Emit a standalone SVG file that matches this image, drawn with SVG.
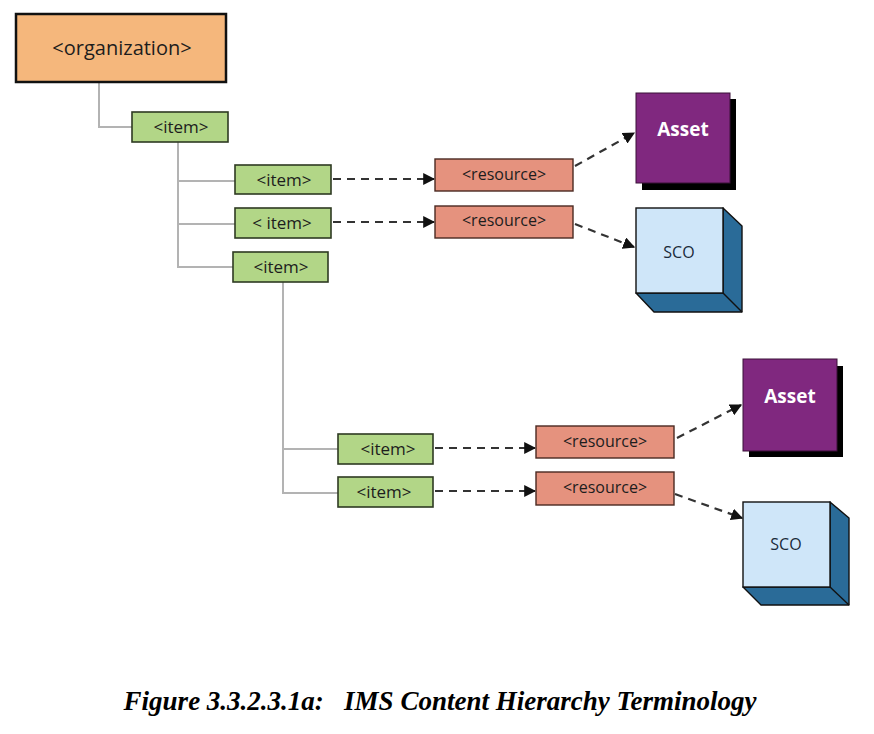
<svg xmlns="http://www.w3.org/2000/svg" width="874" height="734" viewBox="0 0 874 734">
<defs>
<style>
.tree{fill:none;stroke:#b3b3b3;stroke-width:2}
.dash{fill:none;stroke:#333;stroke-width:2.2;stroke-dasharray:8,6}
.item{fill:#b2d687;stroke:#2e3a22;stroke-width:1.6}
.res{fill:#e5927e;stroke:#4a2a22;stroke-width:1.4}
.org{fill:#f5b77c;stroke:#111;stroke-width:2.5}
.lbl{font-family:"Open Sans","Noto Sans",sans-serif;font-size:16px;fill:#1d1d1d;text-anchor:middle}
.it{font-size:17px}
.sco{font-size:16px;fill:#1a2a3a}
.asset{fill:#80287f;stroke:#3a1038;stroke-width:1}
.shadow{fill:#000}
.scoF{fill:#cfe6f9;stroke:#111;stroke-width:1.4}
.scoD{fill:#2a6b98;stroke:#111;stroke-width:1.4;stroke-linejoin:round}
</style>
<marker id="ah" viewBox="0 0 10 10" refX="9" refY="5" markerWidth="12" markerHeight="12" markerUnits="userSpaceOnUse" orient="auto">
<path d="M0,0 L10,5 L0,10 Z" fill="#111"/>
</marker>
</defs>
<rect width="874" height="734" fill="#fff"/>
<g id="connectors">
<path class="tree" d="M99,82 V127 H132"/>
<path class="tree" d="M178,142 V267 H233 M178,181 H235 M178,224 H235"/>
<path class="tree" d="M283,282 V493 H338 M283,449 H338"/>
<path class="dash" d="M333,179 H434" marker-end="url(#ah)"/>
<path class="dash" d="M333,222 H434" marker-end="url(#ah)"/>
<path class="dash" d="M575,166 L634,133" marker-end="url(#ah)"/>
<path class="dash" d="M575,224 L634,247" marker-end="url(#ah)"/>
<path class="dash" d="M435,448 H535" marker-end="url(#ah)"/>
<path class="dash" d="M435,491 H535" marker-end="url(#ah)"/>
<path class="dash" d="M677,438 L741,405" marker-end="url(#ah)"/>
<path class="dash" d="M675,494 L742,518" marker-end="url(#ah)"/>
</g>
<g id="organization">
<rect class="org" x="16" y="14" width="210" height="68"/>
<text class="lbl" x="122" y="55" style="font-size:20px">&lt;organization&gt;</text>
</g>
<g id="item1">
<rect class="item" x="132" y="112" width="96" height="30"/>
<text class="lbl it" x="181" y="133">&lt;item&gt;</text>
</g>
<g id="item2">
<rect class="item" x="235" y="165" width="96" height="29"/>
<text class="lbl it" x="284" y="186">&lt;item&gt;</text>
</g>
<g id="item3">
<rect class="item" x="235" y="208" width="96" height="30"/>
<text class="lbl it" x="282" y="229">&lt; item&gt;</text>
</g>
<g id="item4">
<rect class="item" x="233" y="252" width="95" height="30"/>
<text class="lbl it" x="281" y="273">&lt;item&gt;</text>
</g>
<g id="item5">
<rect class="item" x="338" y="434" width="95" height="30"/>
<text class="lbl it" x="388" y="455">&lt;item&gt;</text>
</g>
<g id="item6">
<rect class="item" x="338" y="477" width="95" height="30"/>
<text class="lbl it" x="384" y="498">&lt;item&gt;</text>
</g>
<g id="resource1">
<rect class="res" x="435" y="159" width="138" height="32"/>
<text class="lbl" x="504" y="180">&lt;resource&gt;</text>
</g>
<g id="resource2">
<rect class="res" x="435" y="206" width="138" height="32"/>
<text class="lbl" x="504" y="226">&lt;resource&gt;</text>
</g>
<g id="resource3">
<rect class="res" x="536" y="426" width="138" height="32"/>
<text class="lbl" x="605" y="447">&lt;resource&gt;</text>
</g>
<g id="resource4">
<rect class="res" x="536" y="472" width="138" height="33"/>
<text class="lbl" x="605" y="493">&lt;resource&gt;</text>
</g>
<g id="asset1">
<rect class="shadow" x="642" y="99" width="94" height="91"/>
<rect class="asset" x="636" y="93" width="94" height="90"/>
<text class="lbl" x="683" y="136" style="font-size:19px;font-weight:bold;fill:#fff">Asset</text>
</g>
<g id="sco1">
<path class="scoD" d="M723,208 L742,226 L742,312 L654,312 L636,293 L723,293 Z"/>
<path class="scoD" d="M723,293 L742,312" fill="none"/>
<rect class="scoF" x="636" y="208" width="87" height="85"/>
<text class="lbl sco" x="679" y="258">SCO</text>
</g>
<g id="asset2">
<rect class="shadow" x="749" y="366" width="94" height="91"/>
<rect class="asset" x="743" y="359" width="94" height="92"/>
<text class="lbl" x="790" y="403" style="font-size:19px;font-weight:bold;fill:#fff">Asset</text>
</g>
<g id="sco2">
<path class="scoD" d="M830,502 L849,518 L849,605 L761,605 L743,587 L830,587 Z"/>
<path class="scoD" d="M830,587 L849,605" fill="none"/>
<rect class="scoF" x="743" y="502" width="87" height="85"/>
<text class="lbl sco" x="786" y="550">SCO</text>
</g>
<text x="440" y="710" style="font-family:'Liberation Serif',serif;font-size:27px;font-weight:bold;font-style:italic;fill:#000;text-anchor:middle;white-space:pre" xml:space="preserve">Figure 3.3.2.3.1a:   IMS Content Hierarchy Terminology</text>
</svg>
